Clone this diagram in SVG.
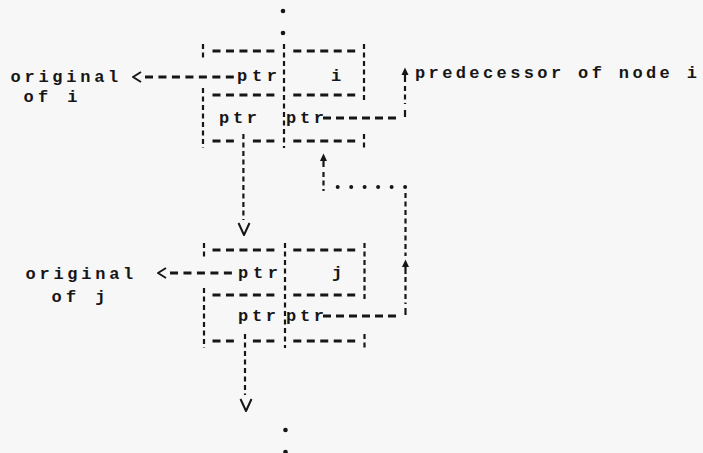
<svg xmlns="http://www.w3.org/2000/svg" width="703" height="453" viewBox="0 0 703 453">
<style>
  text { font-family: "Liberation Mono", "DejaVu Sans Mono", monospace; font-size: 17px; font-weight: bold; fill: #161616; }
  .h { stroke: #161616; stroke-width: 2.8; stroke-dasharray: 8 5.47; fill: none; }
  .v { stroke: #161616; stroke-width: 2.2; stroke-dasharray: 5 3.5; fill: none; }
  .tick { stroke: #161616; stroke-width: 2.2; fill: none; }
  .head { stroke: #161616; stroke-width: 2; fill: none; stroke-linejoin: round; }
  .up { fill: #161616; }
  .dot { fill: #161616; }
</style>
<rect width="703" height="453" fill="#f7f7f7"/>

<g id="node-i">
  <line class="h" x1="212.5" y1="51" x2="274.4" y2="51"/>
  <line class="h" x1="293.3" y1="51" x2="355.2" y2="51"/>
  <line class="h" x1="212.5" y1="95" x2="274.4" y2="95"/>
  <line class="h" x1="293.3" y1="95" x2="355.2" y2="95"/>
  <line class="h" x1="212.5" y1="141" x2="233.9" y2="141"/>
  <line class="h" x1="252.9" y1="141" x2="274.4" y2="141"/>
  <line class="h" x1="293.3" y1="141" x2="355.2" y2="141"/>
  <line class="v" x1="203" y1="44" x2="203" y2="58"/>
  <line class="v" x1="203" y1="88" x2="203" y2="148"/>
  <line class="v" x1="284" y1="44" x2="284" y2="148"/>
  <line class="v" x1="364" y1="44" x2="364" y2="102"/>
  <line class="v" x1="364" y1="134" x2="364" y2="148"/>
  <text x="257" y="81" text-anchor="middle" textLength="40" lengthAdjust="spacing">ptr</text>
  <text x="336" y="81" text-anchor="middle">i</text>
  <text x="238" y="122.5" text-anchor="middle" textLength="38" lengthAdjust="spacing">ptr</text>
  <text x="305" y="122.5" text-anchor="middle" textLength="38" lengthAdjust="spacing">ptr</text>
</g>

<g id="node-j">
  <line class="h" x1="212.5" y1="250" x2="274.4" y2="250"/>
  <line class="h" x1="293.3" y1="250" x2="355.2" y2="250"/>
  <line class="h" x1="212.5" y1="295" x2="274.4" y2="295"/>
  <line class="h" x1="293.3" y1="295" x2="355.2" y2="295"/>
  <line class="h" x1="212.5" y1="341" x2="233.9" y2="341"/>
  <line class="h" x1="252.9" y1="341" x2="274.4" y2="341"/>
  <line class="h" x1="293.3" y1="341" x2="355.2" y2="341"/>
  <line class="v" x1="204" y1="243" x2="204" y2="257"/>
  <line class="v" x1="204" y1="288" x2="204" y2="348"/>
  <line class="v" x1="285" y1="243" x2="285" y2="348"/>
  <line class="v" x1="364.5" y1="243" x2="364.5" y2="302"/>
  <line class="v" x1="364.5" y1="334" x2="364.5" y2="348"/>
  <text x="258" y="277.5" text-anchor="middle" textLength="40" lengthAdjust="spacing">ptr</text>
  <text x="337" y="277.5" text-anchor="middle">j</text>
  <text x="257" y="320.5" text-anchor="middle" textLength="38" lengthAdjust="spacing">ptr</text>
  <text x="305" y="320.5" text-anchor="middle" textLength="38" lengthAdjust="spacing">ptr</text>
</g>

<g id="label-original-i">
  <text x="10.5" y="82" textLength="107.8" lengthAdjust="spacing">original</text>
  <text x="23.5" y="102" textLength="53.9" lengthAdjust="spacing">of i</text>
</g>
<g id="label-original-j">
  <text x="25.5" y="278.5" textLength="107.8" lengthAdjust="spacing">original</text>
  <text x="51.5" y="301.5" textLength="53.9" lengthAdjust="spacing">of j</text>
</g>
<g id="label-predecessor">
  <text x="415" y="77.5" textLength="282" lengthAdjust="spacing">predecessor of node i</text>
</g>

<g id="connectors">
  <line class="h" x1="145" y1="77" x2="234" y2="77"/>
  <path class="head" d="M141,72 L133,77 L141,82"/>
  <line class="h" x1="170" y1="273" x2="233" y2="273"/>
  <path class="head" d="M166,268 L158,273 L166,278"/>
  <line class="v" x1="243.4" y1="134" x2="243.4" y2="220"/>
  <path class="head" d="M238.5,223 L244,235 L249.5,223"/>
  <line class="v" x1="245" y1="334" x2="245" y2="395"/>
  <path class="head" d="M240.5,399 L246,411 L251.5,399"/>
  <line class="h" x1="323" y1="118" x2="397" y2="118" style="stroke-dasharray:8 5"/>
  <line class="tick" x1="405" y1="110" x2="405" y2="117"/>
  <line class="v" x1="405" y1="86" x2="405" y2="104"/>
  <line class="tick" x1="405" y1="73" x2="405" y2="82"/>
  <polygon class="up" points="401.5,75 405,67.5 408.5,75"/>
  <line class="h" x1="323" y1="316" x2="397" y2="316" style="stroke-dasharray:8 5"/>
  <line class="tick" x1="405.5" y1="308" x2="405.5" y2="315"/>
  <line class="v" x1="405.5" y1="277" x2="405.5" y2="304"/>
  <line class="tick" x1="405.5" y1="265" x2="405.5" y2="274"/>
  <polygon class="up" points="402,267 405.5,259.5 409,267"/>
  <line class="v" x1="405.5" y1="193" x2="405.5" y2="256"/>
  <circle class="dot" cx="337.7" cy="187" r="2"/>
  <circle class="dot" cx="351.2" cy="187" r="2"/>
  <circle class="dot" cx="364.6" cy="187" r="2"/>
  <circle class="dot" cx="378.1" cy="187" r="2"/>
  <circle class="dot" cx="391.6" cy="187" r="2"/>
  <circle class="dot" cx="405.1" cy="187" r="2"/>
  <line class="v" x1="323.5" y1="172" x2="323.5" y2="191"/>
  <line class="tick" x1="323.5" y1="159" x2="323.5" y2="167"/>
  <polygon class="up" points="320,161 323.5,153.5 327,161"/>
</g>

<g id="ellipsis">
  <circle class="dot" cx="283" cy="11" r="2.3"/>
  <circle class="dot" cx="283" cy="33" r="2.3"/>
  <circle class="dot" cx="285.5" cy="430" r="2.3"/>
  <circle class="dot" cx="285.5" cy="452" r="2.3"/>
</g>
</svg>
